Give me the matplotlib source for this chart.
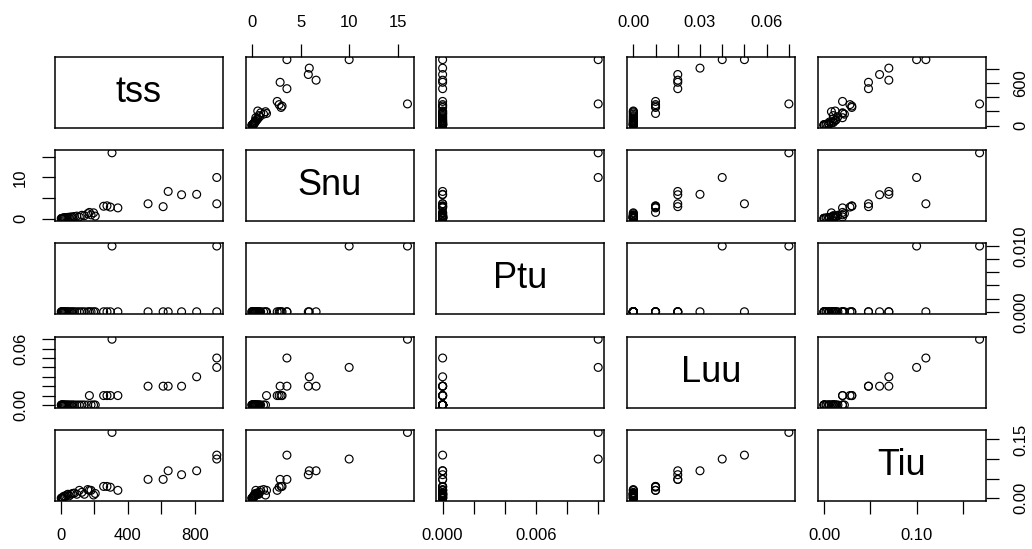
import numpy as np
import matplotlib.pyplot as plt

plt.rcParams['font.family'] = ['Liberation Sans', 'DejaVu Sans']

names = ["tss", "Snu", "Ptu", "Luu", "Tiu"]

# one entry per sample
tss = [930, 930, 305, 810, 720, 640, 610, 520, 255, 275, 295, 340, 170,
       2, 5, 8, 10, 14, 18, 22, 28, 35, 42, 50, 60, 70, 80, 95, 110, 125,
       140, 160, 180, 195, 205]
Snu = [10.0, 3.6, 16.0, 5.9, 5.8, 6.6, 2.9, 3.6, 3.0, 3.1, 2.8, 2.6, 1.5,
       0, 0, 0.05, 0.1, 0.1, 0.15, 0.2, 0.2, 0.25, 0.3, 0.3, 0.4, 0.35, 0.5,
       0.6, 0.4, 0.8, 0.7, 1.2, 0.9, 1.4, 0.6]
Ptu = [0.01, 0, 0.01, 0, 0, 0, 0, 0, 0, 0, 0, 0, 0,
       0, 0, 0, 0, 0, 0, 0, 0, 0, 0, 0, 0, 0, 0, 0, 0, 0, 0, 0, 0, 0, 0]
Luu = [0.04, 0.05, 0.07, 0.03, 0.02, 0.02, 0.02, 0.02, 0.01, 0.01, 0.01, 0.01, 0.01,
       0, 0, 0, 0, 0, 0, 0, 0, 0, 0, 0, 0, 0, 0, 0, 0, 0, 0, 0, 0, 0, 0]
Tiu = [0.100, 0.110, 0.168, 0.070, 0.060, 0.070, 0.048, 0.048, 0.030, 0.030, 0.028, 0.020, 0.020,
       0, 0, 0, 0.002, 0, 0.005, 0.003, 0.005, 0.008, 0.010, 0.006, 0.010, 0.012,
       0.013, 0.010, 0.020, 0.015, 0.010, 0.022, 0.020, 0.008, 0.012]

data = [np.array(v, dtype=float) for v in (tss, Snu, Ptu, Luu, Tiu)]

ticks = [
    [0, 200, 400, 600, 800],
    [0, 5, 10, 15],
    [0, 0.002, 0.004, 0.006, 0.008, 0.010],
    [0, 0.01, 0.02, 0.03, 0.04, 0.05, 0.06, 0.07],
    [0, 0.05, 0.10, 0.15],
]
# R drops labels that would overlap, so only some get text
xlabels = [
    ["0", "", "400", "", "800"],
    ["0", "5", "10", "15"],
    ["0.000", "", "", "0.006", "", ""],
    ["0.00", "", "", "0.03", "", "", "0.06", ""],
    ["0.00", "", "0.10", ""],
]
ylabels = [
    ["0", "", "", "600", ""],
    ["0", "", "10", ""],
    ["0.000", "", "", "", "", "0.010"],
    ["0.00", "", "", "", "", "", "0.06", ""],
    ["0.00", "", "", "0.15"],
]

W, H = 1032, 549
fig = plt.figure(figsize=(W / 100, H / 100), dpi=100)

n = len(names)
left0, colw, colstep = 55, 168, 190.7
top0, rowh, rowstep = 57, 71, 93.2


def lims(v):
    lo, hi = v.min(), v.max()
    pad = 0.04 * (hi - lo)
    return lo - pad, hi + pad


for i in range(n):
    for j in range(n):
        x0 = left0 + j * colstep
        y0 = top0 + i * rowstep
        ax = fig.add_axes([x0 / W, 1 - (y0 + rowh) / H, colw / W, rowh / H])
        for s in ax.spines.values():
            s.set_linewidth(1.1)
        if i == j:
            ax.text(0.5, 0.5, names[i], transform=ax.transAxes, ha='center',
                    va='center', fontsize=26)
        else:
            ax.scatter(data[j], data[i], s=32, facecolors='none',
                       edgecolors='black', linewidths=0.85)

        ax.tick_params(direction='out', length=9.5, width=0.9,
                       labelsize=12, pad=10)
        ax.set_xticks([])
        ax.set_yticks([])

        if i == 0 and j % 2 == 1:
            ax.set_xticks(ticks[j])
            ax.set_xticklabels(xlabels[j])
            ax.xaxis.set_ticks_position('top')
        if i == n - 1 and j % 2 == 0:
            ax.set_xticks(ticks[j])
            ax.set_xticklabels(xlabels[j])
            ax.xaxis.set_ticks_position('bottom')
        if j == 0 and i % 2 == 1:
            ax.set_yticks(ticks[i])
            ax.set_yticklabels(ylabels[i], rotation=90, va='center')
            ax.yaxis.set_ticks_position('left')
        if j == n - 1 and i % 2 == 0:
            ax.set_yticks(ticks[i])
            ax.set_yticklabels(ylabels[i], rotation=90, va='center')
            ax.yaxis.set_ticks_position('right')
        ax.set_xlim(lims(data[j]))
        ax.set_ylim(lims(data[i]))

fig.savefig("out.png", dpi=100)
